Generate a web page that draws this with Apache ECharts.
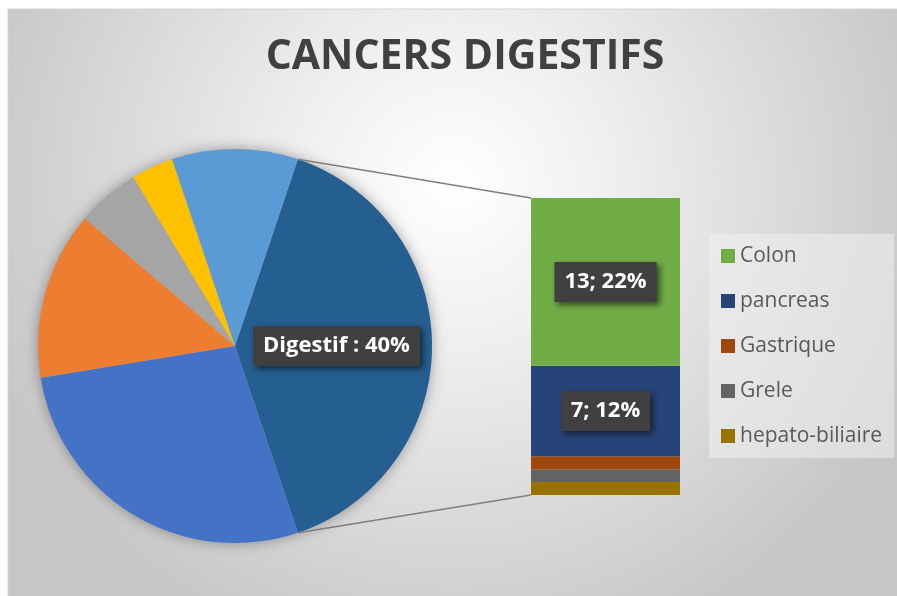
<!DOCTYPE html>
<html>
<head>
<meta charset="utf-8">
<script src="https://cdn.jsdelivr.net/npm/echarts@6/dist/echarts.min.js"></script>
<style>
  html, body { margin: 0; padding: 0; background: #fff; }
  #main { width: 897px; height: 596px; }
</style>
</head>
<body>
<div id="main"></div>
<script>
// pie slices (first one, "Digestif", is the sum of the bar below)
const pieNames = ['Digestif', 'Autre 1', 'Autre 2', 'Autre 3', 'Autre 4', 'Autre 5'];
const pieOther = [16, 8, 3, 2, 6];
const pieColors = ['#255E91', '#4472C4', '#ED7D31', '#A5A5A5', '#FFC000', '#5B9BD5'];

// bar of pie (detail of Digestif)
const barNames = ['Colon', 'pancreas', 'Gastrique', 'Grele', 'hepato-biliaire'];
const barValues = [13, 7, 1, 1, 1];
const barColors = ['#70AD47', '#264478', '#9E480E', '#636363', '#997300'];

const digestif = barValues.reduce((a, b) => a + b, 0);
const pieValues = [digestif].concat(pieOther);
const total = pieValues.reduce((a, b) => a + b, 0);

const pieCenter = [235, 346];
const pieRadius = 197;
const halfAngle = digestif / total * 180; // digestif slice centred on 3 o'clock

const boxLabel = {
  show: true,
  position: 'inside',
  color: '#fff',
  fontFamily: 'Open Sans',
  fontWeight: 'bold',
  fontSize: 22,
  backgroundColor: '#404040',
  padding: [10, 10, 8, 10],
  shadowColor: 'rgba(0,0,0,0.55)',
  shadowBlur: 6,
  shadowOffsetX: 3,
  shadowOffsetY: 3
};

const barSeries = [];
for (let i = barNames.length - 1; i >= 0; i--) {
  barSeries.push({
    type: 'bar',
    name: barNames[i],
    stack: 'digestif',
    barWidth: '100%',
    itemStyle: { color: barColors[i] },
    label: i < 2 ? Object.assign({}, boxLabel, {
      formatter: p => p.value + '; ' + Math.round(p.value / total * 100) + '%'
    }) : { show: false },
    silent: true,
    data: [barValues[i]]
  });
}

const chart = echarts.init(document.getElementById('main'));

const option = {
  animation: false,
  title: {
    text: 'CANCERS DIGESTIFS',
    left: 460,
    top: 32,
    textAlign: 'center',
    textStyle: {
      fontFamily: 'Open Sans',
      fontWeight: 'bold',
      fontSize: 41,
      color: '#404040'
    }
  },
  graphic: [{
    id: 'bg',
    type: 'rect',
    z: -10,
    silent: true,
    shape: { x: 8, y: 9, width: 890, height: 588 },
    style: {
      fill: new echarts.graphic.RadialGradient(0.5, 0.3, 0.85, [
        { offset: 0, color: '#ffffff' },
        { offset: 0.3, color: '#f0f0f0' },
        { offset: 1, color: '#c6c6c6' }
      ]),
      stroke: '#d4d4d4',
      lineWidth: 1
    }
  }],
  legend: {
    data: barNames,
    orient: 'vertical',
    left: 709,
    top: 234,
    backgroundColor: 'rgba(240,240,240,0.55)',
    padding: [10, 12, 10, 12],
    itemWidth: 14,
    itemHeight: 14,
    itemGap: 21,
    icon: 'rect',
    selectedMode: false,
    textStyle: {
      fontFamily: 'Open Sans',
      fontSize: 21,
      lineHeight: 24,
      color: '#595959'
    }
  },
  grid: { left: 531, top: 198, width: 149, height: 297 },
  xAxis: { type: 'category', data: ['Digestif'], show: false },
  yAxis: { type: 'value', min: 0, max: digestif, show: false },
  series: [
    {
      // soft shadow behind the pie
      type: 'pie',
      silent: true,
      z: 1,
      center: pieCenter,
      radius: pieRadius,
      label: { show: false },
      labelLine: { show: false },
      itemStyle: {
        color: '#b0b0b0',
        shadowBlur: 14,
        shadowColor: 'rgba(0,0,0,0.35)'
      },
      data: [total]
    },
    {
      type: 'pie',
      silent: true,
      z: 2,
      center: pieCenter,
      radius: pieRadius,
      startAngle: halfAngle,
      clockwise: true,
      labelLine: { show: false },
      label: { show: false },
      data: pieValues.map((v, i) => ({
        name: pieNames[i],
        value: v,
        itemStyle: { color: pieColors[i] },
        label: i === 0 ? Object.assign({}, boxLabel, {
          formatter: p => p.name + ' : ' + Math.round(p.percent) + '%'
        }) : { show: false }
      }))
    }
  ].concat(barSeries)
};

chart.setOption(option);

// connector lines from the digestif slice edges to the bar corners
const a = halfAngle * Math.PI / 180;
const pTop = [pieCenter[0] + pieRadius * Math.cos(a), pieCenter[1] - pieRadius * Math.sin(a)];
const pBot = [pieCenter[0] + pieRadius * Math.cos(a), pieCenter[1] + pieRadius * Math.sin(a)];
const barTop = chart.convertToPixel({ gridIndex: 0 }, [0, digestif]);
const barBot = chart.convertToPixel({ gridIndex: 0 }, [0, 0]);
const barLeft = barTop[0] - 149 / 2;

chart.setOption({
  graphic: [
    {
      id: 'lineTop',
      type: 'line',
      silent: true,
      z: 5,
      shape: { x1: pTop[0], y1: pTop[1], x2: barLeft, y2: barTop[1] },
      style: { stroke: '#7f7f7f', lineWidth: 1.5 }
    },
    {
      id: 'lineBot',
      type: 'line',
      silent: true,
      z: 5,
      shape: { x1: pBot[0], y1: pBot[1], x2: barLeft, y2: barBot[1] },
      style: { stroke: '#7f7f7f', lineWidth: 1.5 }
    }
  ]
});
</script>
</body>
</html>
